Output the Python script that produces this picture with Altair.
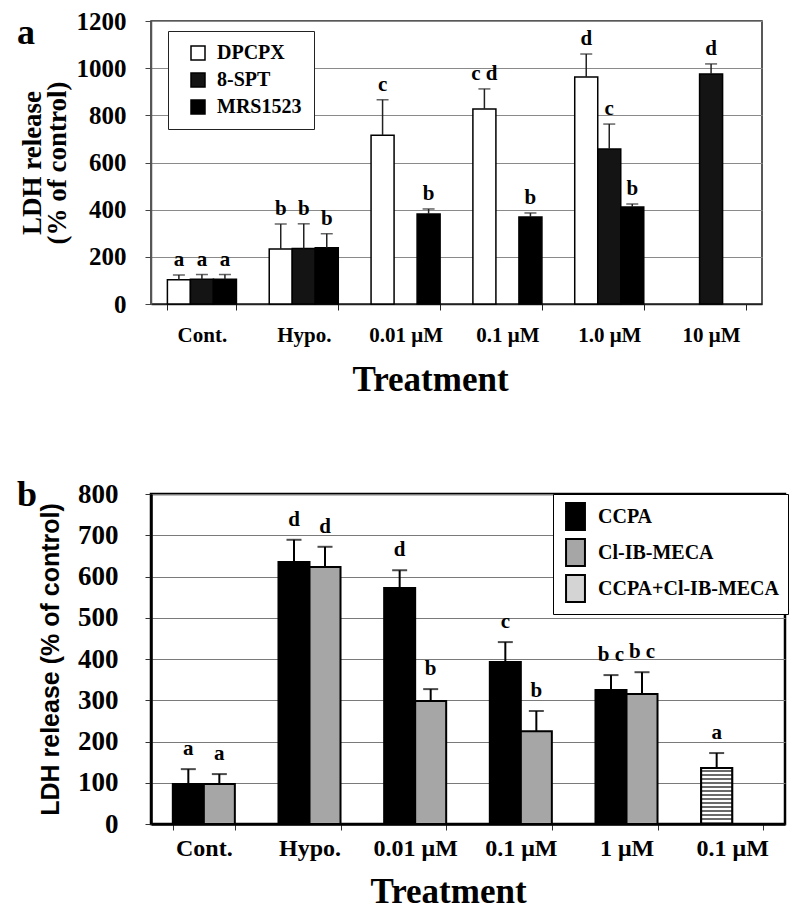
import altair as alt
import pandas as pd

SERIF = "Liberation Serif"
SANS = "Liberation Sans"

# ---------------- Panel a data ----------------
cats_a = ["Cont.", "Hypo.", "0.01 μM", "0.1 μM", "1.0 μM", "10 μM"]
series_a = ["DPCPX", "8-SPT", "MRS1523"]
dpcpx_val = [103, 233, 716, 827, 963, None]
dpcpx_err = [20, 106, 150, 85, 97, None]
dpcpx_lbl = ["a", "b", "c", "c d", "d", None]
spt_val = [105, 235, None, None, 657, 975]
spt_err = [20, 105, None, None, 106, 43]
spt_lbl = ["a", "b", None, None, "c", "d"]
mrs_val = [105, 238, 382, 369, 411, None]
mrs_err = [20, 60, 21, 17, 13, None]
mrs_lbl = ["a", "b", "b", "b", "b", None]

# ---------------- Panel b data ----------------
cats_b = ["Cont.", "Hypo.", "0.01 μM", "0.1 μM", "1 μM", "0.1 μM|combo"]
series_b = ["CCPA", "Cl-IB-MECA", "CCPA+Cl-IB-MECA"]
ccpa_val = [97, 635, 572, 393, 325, None]
ccpa_err = [36, 54, 43, 48, 36, None]
ccpa_lbl = ["a", "d", "d", "c", "b c", None]
cl_val = [97, 623, 298, 225, 315, None]
cl_err = [24, 49, 29, 49, 53, None]
cl_lbl = ["a", "d", "b", "b", "b c", None]
combo_val = [None, None, None, None, None, 136]
combo_err = [None, None, None, None, None, 36]
combo_lbl = [None, None, None, None, None, "a"]


def long_df(cats, series_list):
    rows = []
    for name, slot, vals, errs, lbls in series_list:
        for c, v, e, l in zip(cats, vals, errs, lbls):
            if v is None:
                continue
            rows.append({"cat": c, "series": name, "slot": slot, "val": v,
                         "top": v + e, "lbl": l if l else ""})
    return pd.DataFrame(rows)


df_a = long_df(cats_a, [("DPCPX", "DPCPX", dpcpx_val, dpcpx_err, dpcpx_lbl),
                        ("8-SPT", "8-SPT", spt_val, spt_err, spt_lbl),
                        ("MRS1523", "MRS1523", mrs_val, mrs_err, mrs_lbl)])
df_b = long_df(cats_b, [("CCPA", "L", ccpa_val, ccpa_err, ccpa_lbl),
                        ("Cl-IB-MECA", "R", cl_val, cl_err, cl_lbl),
                        ("CCPA+Cl-IB-MECA", "L", combo_val, combo_err, combo_lbl)])

# ---------------- Panel a chart ----------------
WA, HA = 611, 283
xa_axis = alt.Axis(title="Treatment", titleFont=SERIF, titleFontSize=35, titleFontWeight="bold",
                   titleColor="black", titleX=279, titlePadding=17,
                   labelFont=SERIF, labelFontSize=21, labelFontWeight="bold", labelColor="black",
                   labelAngle=0, labelPadding=14, tickBand="extent", tickSize=6, tickColor="#222",
                   domainColor="#222", domainWidth=1.5)
ya_axis = alt.Axis(title=["LDH release", "(% of control)"], titleFont=SERIF, titleFontSize=27,
                   titleFontWeight="bold", titleColor="black", titleLineHeight=25, titlePadding=5,
                   labelFont=SERIF, labelFontSize=25, labelFontWeight="bold", labelColor="black",
                   labelPadding=19, tickSize=6, tickColor="#444", format="d",
                   values=[0, 200, 400, 600, 800, 1000, 1200],
                   grid=True, gridColor="#8a8a8a", gridWidth=1, domainColor="#555", domainWidth=1.5)
xa = alt.X("cat:N", sort=cats_a, axis=xa_axis,
           scale=alt.Scale(domain=cats_a, paddingInner=0.322, paddingOuter=0.161))
xoa = alt.XOffset("slot:N", scale=alt.Scale(domain=series_a, paddingInner=0, paddingOuter=0))
ya_scale = alt.Scale(domain=[0, 1200], nice=False)

base_a = alt.Chart(df_a)
bars_a = base_a.mark_bar(stroke="black", strokeWidth=1.5).encode(
    x=xa, xOffset=xoa,
    y=alt.Y("val:Q", scale=ya_scale, axis=ya_axis),
    color=alt.Color("series:N", scale=alt.Scale(domain=series_a, range=["white", "#141414", "#000000"]),
                    legend=alt.Legend(title=None, orient="none", legendX=17, legendY=10,
                                      direction="vertical", labelFont=SERIF, labelFontSize=20,
                                      labelFontWeight="bold", labelColor="black", symbolType="square",
                                      symbolSize=196, symbolStrokeColor="black", symbolStrokeWidth=1.5,
                                      symbolOffset=8, strokeColor="#222", fillColor="white",
                                      padding=12, rowPadding=7, labelOffset=9, labelLimit=0)),
)
err_a = base_a.mark_rule(color="#222", strokeWidth=1.5).encode(
    x=xa, xOffset=xoa, y=alt.Y("val:Q", scale=ya_scale, axis=ya_axis), y2="top:Q")
cap_a = base_a.mark_tick(color="#222", thickness=1.5, size=12).encode(
    x=xa, xOffset=xoa, y=alt.Y("top:Q", scale=ya_scale, axis=ya_axis))
lbl_a = base_a.mark_text(font=SERIF, fontSize=21, fontWeight="bold", baseline="alphabetic",
                         dy=-9, color="black").encode(
    x=xa, xOffset=xoa, y=alt.Y("top:Q", scale=ya_scale, axis=ya_axis), text="lbl:N")
letter_a = alt.Chart(pd.DataFrame({"t": ["a"]})).mark_text(
    font=SERIF, fontSize=36, fontWeight="bold", align="left", baseline="alphabetic", color="black"
).encode(x=alt.value(-134), y=alt.value(23), text="t:N")

panel_a = alt.layer(bars_a, err_a, cap_a, lbl_a, letter_a).properties(
    width=WA, height=HA, view=alt.ViewBackground(stroke="#222", strokeWidth=1.5))

# ---------------- Panel b chart ----------------
WB, HB = 634, 330
xb_axis = alt.Axis(title="Treatment", titleFont=SERIF, titleFontSize=35, titleFontWeight="bold",
                   titleColor="black", titleX=297, titlePadding=14,
                   labelFont=SERIF, labelFontSize=24, labelFontWeight="bold", labelColor="black",
                   labelAngle=0, labelPadding=6, tickBand="extent", tickSize=6, tickColor="#333",
                   domainColor="black", domainWidth=2.5,
                   labelExpr="split(datum.label, '|')[0]")
yb_axis = alt.Axis(title="LDH release (% of control)", titleFont=SANS, titleFontSize=25,
                   titleFontWeight="bold", titleColor="black", titlePadding=14,
                   labelFont=SERIF, labelFontSize=27, labelFontWeight="bold", labelColor="black",
                   labelPadding=27, tickSize=6, tickColor="#333", format="d",
                   values=[0, 100, 200, 300, 400, 500, 600, 700, 800],
                   grid=True, gridColor="#7a7a7a", gridWidth=1, domainColor="black", domainWidth=2.5)
xb = alt.X("cat:N", sort=cats_b, axis=xb_axis,
           scale=alt.Scale(domain=cats_b, paddingInner=0.413, paddingOuter=0.2065))
xob = alt.XOffset("slot:N", scale=alt.Scale(domain=["L", "R"], paddingInner=0, paddingOuter=0))
yb_scale = alt.Scale(domain=[0, 800], nice=False)

stripe_stops = []
N = 14
for i in range(N):
    a0 = i / N
    a1 = (i + 0.6) / N
    a2 = (i + 1) / N
    stripe_stops += [alt.GradientStop(offset=a0, color="white"),
                     alt.GradientStop(offset=a1, color="white"),
                     alt.GradientStop(offset=a1, color="#6a6a6a"),
                     alt.GradientStop(offset=a2, color="#6a6a6a")]
stripes = alt.LinearGradient(gradient="linear", stops=stripe_stops, x1=0, x2=0, y1=0, y2=1)

base_b = alt.Chart(df_b)
bars_b = base_b.mark_bar(stroke="black", strokeWidth=2).encode(
    x=xb, xOffset=xob,
    y=alt.Y("val:Q", scale=yb_scale, axis=yb_axis),
    color=alt.Color("series:N", scale=alt.Scale(domain=series_b, range=["#000000", "#a6a6a6", "#d4d4d4"]),
                    legend=alt.Legend(title=None, orient="none", legendX=402, legendY=0,
                                      direction="vertical", labelFont=SERIF, labelFontSize=20,
                                      labelFontWeight="bold", labelColor="black",
                                      symbolType="M-0.7,-1L0.7,-1L0.7,1L-0.7,1Z",
                                      symbolSize=729, symbolStrokeColor="black", symbolStrokeWidth=2,
                                      strokeColor="black", fillColor="white",
                                      padding=8, rowPadding=1, labelOffset=8, labelLimit=0)),
)
stripe_b = base_b.transform_filter(alt.datum.series == "CCPA+Cl-IB-MECA").mark_bar(
    color=stripes, stroke="black", strokeWidth=2).encode(
    x=xb, xOffset=xob, y=alt.Y("val:Q", scale=yb_scale, axis=yb_axis))
err_b = base_b.mark_rule(color="black", strokeWidth=2).encode(
    x=xb, xOffset=xob, y=alt.Y("val:Q", scale=yb_scale, axis=yb_axis), y2="top:Q")
cap_b = base_b.mark_tick(color="black", thickness=2, size=15).encode(
    x=xb, xOffset=xob, y=alt.Y("top:Q", scale=yb_scale, axis=yb_axis))
lbl_b = base_b.mark_text(font=SERIF, fontSize=21, fontWeight="bold", baseline="alphabetic",
                         dy=-14, color="black").encode(
    x=xb, xOffset=xob, y=alt.Y("top:Q", scale=yb_scale, axis=yb_axis), text="lbl:N")
letter_b = alt.Chart(pd.DataFrame({"t": ["b"]})).mark_text(
    font=SERIF, fontSize=36, fontWeight="bold", align="left", baseline="alphabetic", color="black"
).encode(x=alt.value(-134), y=alt.value(12), text="t:N")

panel_b = alt.layer(bars_b, stripe_b, err_b, cap_b, lbl_b, letter_b).properties(
    width=WB, height=HB, view=alt.ViewBackground(stroke="black", strokeWidth=2.5))

chart = alt.vconcat(panel_a, panel_b, spacing=77).resolve_scale(
    x="independent", y="independent", xOffset="independent", color="independent"
).resolve_legend(color="independent").properties(
    padding={"left": 7, "top": 0, "right": 0, "bottom": 0}
).configure(background="white")

chart.save("out.html", embed_options={"renderer": "svg", "actions": False})
